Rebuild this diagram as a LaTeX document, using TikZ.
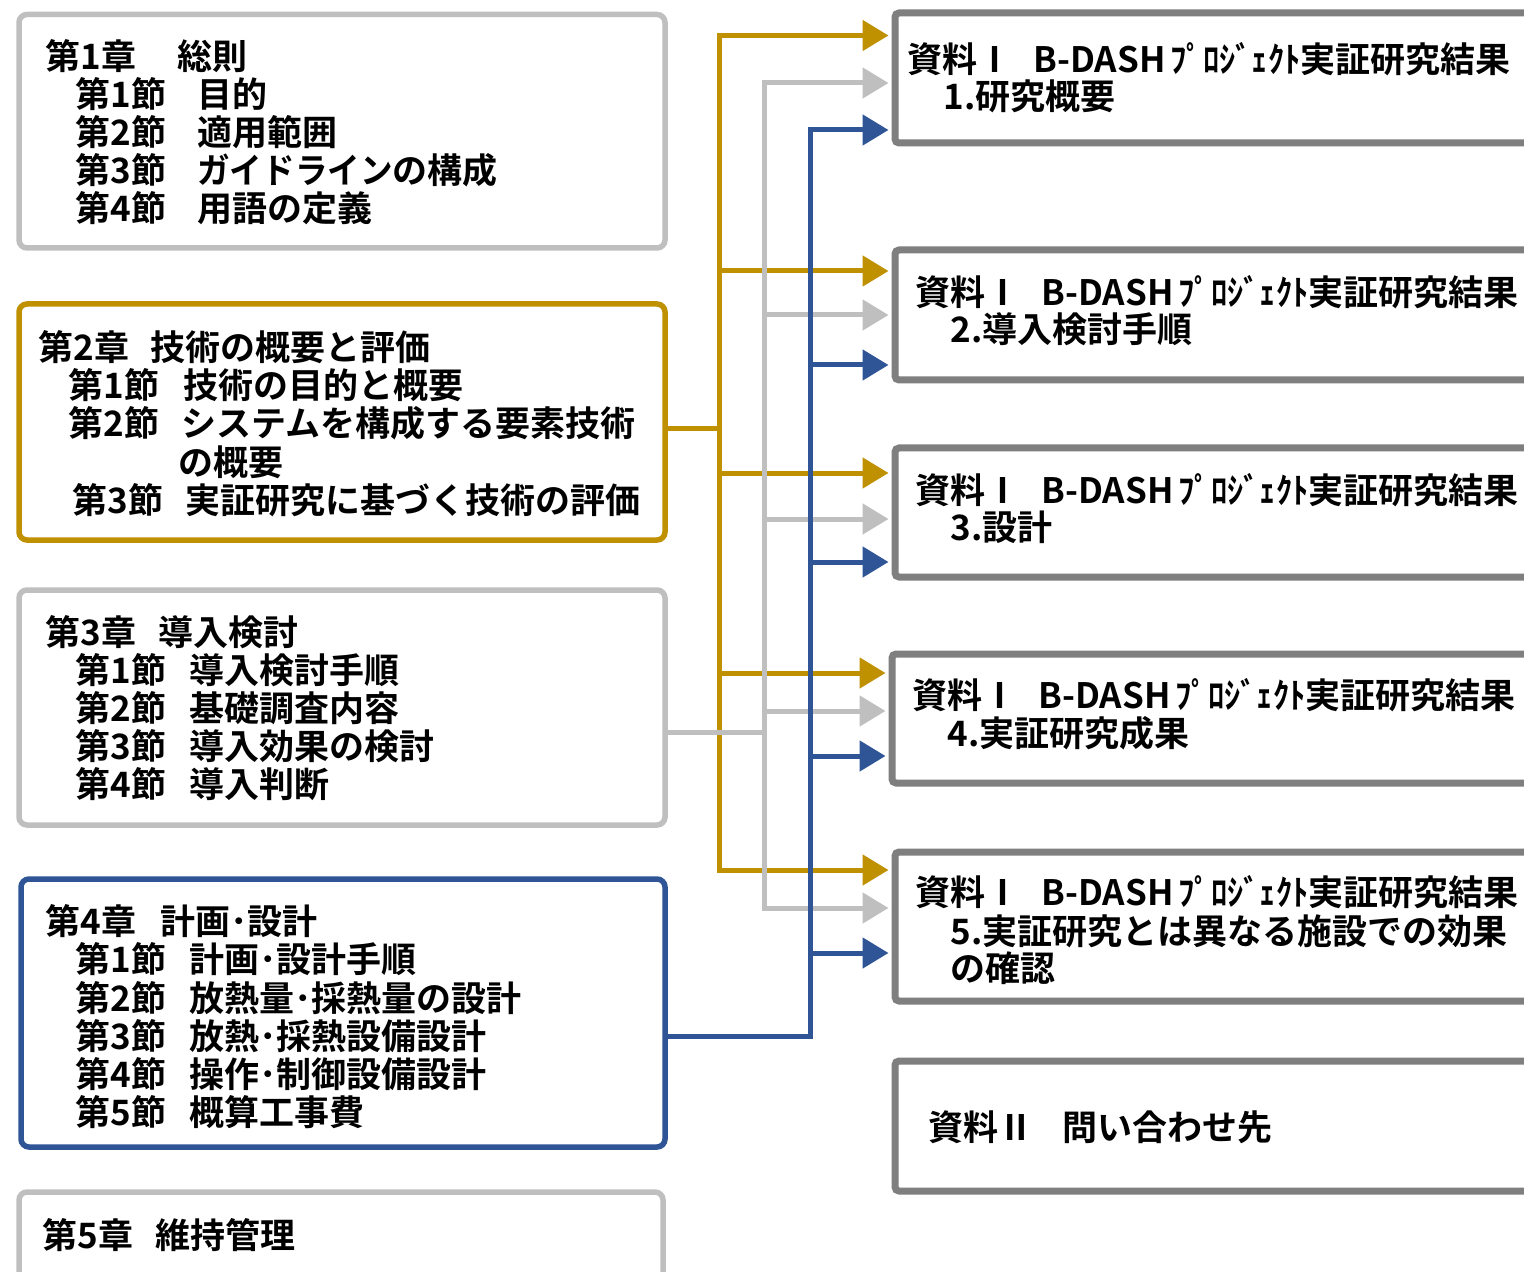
\documentclass[tikz,border=0pt]{standalone}
\usepackage{fontspec}
\usepackage{graphicx}
\setmainfont{Noto Sans CJK JP}[BoldFont={Noto Sans CJK JP Bold}]
\usetikzlibrary{fit,arrows.meta}
\definecolor{cgold}{HTML}{BF9000}
\definecolor{cgray}{HTML}{BFBFBF}
\definecolor{cblue}{HTML}{2F5597}
\definecolor{cdark}{HTML}{7F7F7F}
\newcommand\bdashtitle{\makebox[63pt][l]{資料Ⅰ}B-DASH\hspace{2.5pt}\scalebox{0.93}[1]{ﾌﾟﾛｼﾞｪｸﾄ}実証研究結果}
\begin{document}
\begin{tikzpicture}[x=0.5pt,y=-0.5pt,
  lbox/.style={draw=#1, line width=2.75pt, rounded corners=4pt, inner sep=0pt},
  rbox/.style={draw=cdark, line width=3.5pt, rounded corners=2pt, inner sep=0pt},
  txt/.style={anchor=base west, inner sep=0pt, font=\bfseries\fontsize{17.5pt}{19pt}\selectfont},
  conn/.style={draw=#1, line width=2.5pt, line cap=rect},
  arr/.style={conn=#1, -{Triangle[length=13pt,width=15pt]}, shorten >=1.5pt},
]
\useasboundingbox (0,0) rectangle (1524,1272);
\clip (0,0) rectangle (1524,1272);
\fill[white] (0,0) rectangle (1524,1272);

% left boxes
\node[lbox=cgray, fit={(19,14.5) (665,248)}] (b1) {};
\node[lbox=cgold, fit={(19,304) (665,540)}] (b2) {};
\node[lbox=cgray, fit={(19,590) (665,825)}] (b3) {};
\node[lbox=cblue, fit={(21,879) (665,1147)}] (b4) {};
\node[lbox=cgray, fit={(19,1192) (663,1290)}] (b5) {};

% right boxes
\node[rbox, fit={(895,13) (1560,143)}] (r1) {};
\node[rbox, fit={(895,250) (1560,380)}] (r2) {};
\node[rbox, fit={(895,448) (1560,577)}] (r3) {};
\node[rbox, fit={(892,654) (1560,783)}] (r4) {};
\node[rbox, fit={(895,852) (1560,1001)}] (r5) {};
\node[rbox, fit={(895,1061) (1560,1191)}] (r6) {};

% box 1 text
\node[txt] (t11) at (45,70) {\makebox[66pt][l]{第1章}総則};
\node[txt] (t12) at (75,108) {\makebox[61pt][l]{第1節}目的};
\node[txt] (t13) at (75,146) {\makebox[61pt][l]{第2節}適用範囲};
\node[txt] (t14) at (75,184) {\makebox[61pt][l]{第3節}\scalebox{0.93}[1]{ガイドライン}の構成};
\node[txt] (t15) at (75,222) {\makebox[61pt][l]{第4節}用語の定義};

% box 2 text
\node[txt] (t21) at (38,361) {\makebox[56pt][l]{第2章}技術の概要と評価};
\node[txt] (t22) at (68,399) {\makebox[57.5pt][l]{第1節}技術の目的と概要};
\node[txt] (t23) at (68,437) {\makebox[56.5pt][l]{第2節}システムを構成する要素技術};
\node[txt] (t24) at (178,475) {の概要};
\node[txt] (t25) at (72,513) {\makebox[56.5pt][l]{第3節}実証研究に基づく技術の評価};

% box 3 text
\node[txt] (t31) at (45,645) {\makebox[56.5pt][l]{第3章}導入検討};
\node[txt] (t32) at (75,683) {\makebox[57pt][l]{第1節}導入検討手順};
\node[txt] (t33) at (75,721) {\makebox[57pt][l]{第2節}基礎調査内容};
\node[txt] (t34) at (75,759) {\makebox[57pt][l]{第3節}導入効果の検討};
\node[txt] (t35) at (75,797) {\makebox[57pt][l]{第4節}導入判断};

% box 4 text
\node[txt] (t41) at (45,934) {\makebox[57.5pt][l]{第4章}計画･設計};
\node[txt] (t42) at (75,972) {\makebox[57pt][l]{第1節}計画･設計手順};
\node[txt] (t43) at (75,1011) {\makebox[57pt][l]{第2節}放熱量･採熱量の設計};
\node[txt] (t44) at (75,1049) {\makebox[57pt][l]{第3節}放熱･採熱設備設計};
\node[txt] (t45) at (75,1087) {\makebox[57pt][l]{第4節}操作･制御設備設計};
\node[txt] (t46) at (75,1125) {\makebox[57pt][l]{第5節}概算工事費};

% box 5 text
\node[txt] (t51) at (42,1248) {\makebox[56.5pt][l]{第5章}維持管理};

% right texts
\node[txt] (s11) at (907,73) {\bdashtitle};
\node[txt] (s12) at (943,110) {1.研究概要};
\node[txt] (s21) at (915,306) {\bdashtitle};
\node[txt] (s22) at (950,343) {2.導入検討手順};
\node[txt] (s31) at (915,503) {\bdashtitle};
\node[txt] (s32) at (950,540) {3.設計};
\node[txt] (s41) at (912,708) {\bdashtitle};
\node[txt] (s42) at (947,746) {4.実証研究成果};
\node[txt] (s51) at (915,905) {\bdashtitle};
\node[txt] (s52) at (950,944) {5.実証研究とは異なる施設での効果};
\node[txt] (s53) at (950,981) {の確認};
\node[txt] (s61) at (928,1140) {\makebox[67pt][l]{資料Ⅱ}問い合わせ先};

% gold connectors (chapter 2)
\coordinate (gin) at (719,429);
\coordinate (g1) at (719,35.5);
\coordinate (g2) at (719,271);
\coordinate (g3) at (719,473);
\coordinate (g4) at (719,673);
\coordinate (g5) at (719,870);
\draw[conn=cgold] (b2.east |- gin) -- (gin);
\draw[conn=cgold] (g1) -- (g5);
\draw[arr=cgold] (g1) -- (g1 -| r1.west);
\draw[arr=cgold] (g2) -- (g2 -| r2.west);
\draw[arr=cgold] (g3) -- (g3 -| r3.west);
\draw[arr=cgold] (g4) -- (g4 -| r4.west);
\draw[arr=cgold] (g5) -- (g5 -| r5.west);

% gray connectors (chapter 3)
\coordinate (sin) at (764,732);
\coordinate (s1) at (764,83);
\coordinate (s2) at (764,315);
\coordinate (s3) at (764,519);
\coordinate (s4) at (764,711);
\coordinate (s5) at (764,908);
\draw[conn=cgray] (b3.east |- sin) -- (sin);
\draw[conn=cgray] (s1) -- (s5);
\draw[arr=cgray] (s1) -- (s1 -| r1.west);
\draw[arr=cgray] (s2) -- (s2 -| r2.west);
\draw[arr=cgray] (s3) -- (s3 -| r3.west);
\draw[arr=cgray] (s4) -- (s4 -| r4.west);
\draw[arr=cgray] (s5) -- (s5 -| r5.west);

% blue connectors (chapter 4)
\coordinate (bin) at (810,1036);
\coordinate (u1) at (810,130);
\coordinate (u2) at (810,365);
\coordinate (u3) at (810,562);
\coordinate (u4) at (810,756);
\coordinate (u5) at (810,953);
\draw[conn=cblue] (b4.east |- bin) -- (bin);
\draw[conn=cblue] (u1) -- (bin);
\draw[arr=cblue] (u1) -- (u1 -| r1.west);
\draw[arr=cblue] (u2) -- (u2 -| r2.west);
\draw[arr=cblue] (u3) -- (u3 -| r3.west);
\draw[arr=cblue] (u4) -- (u4 -| r4.west);
\draw[arr=cblue] (u5) -- (u5 -| r5.west);
\end{tikzpicture}
\end{document}
